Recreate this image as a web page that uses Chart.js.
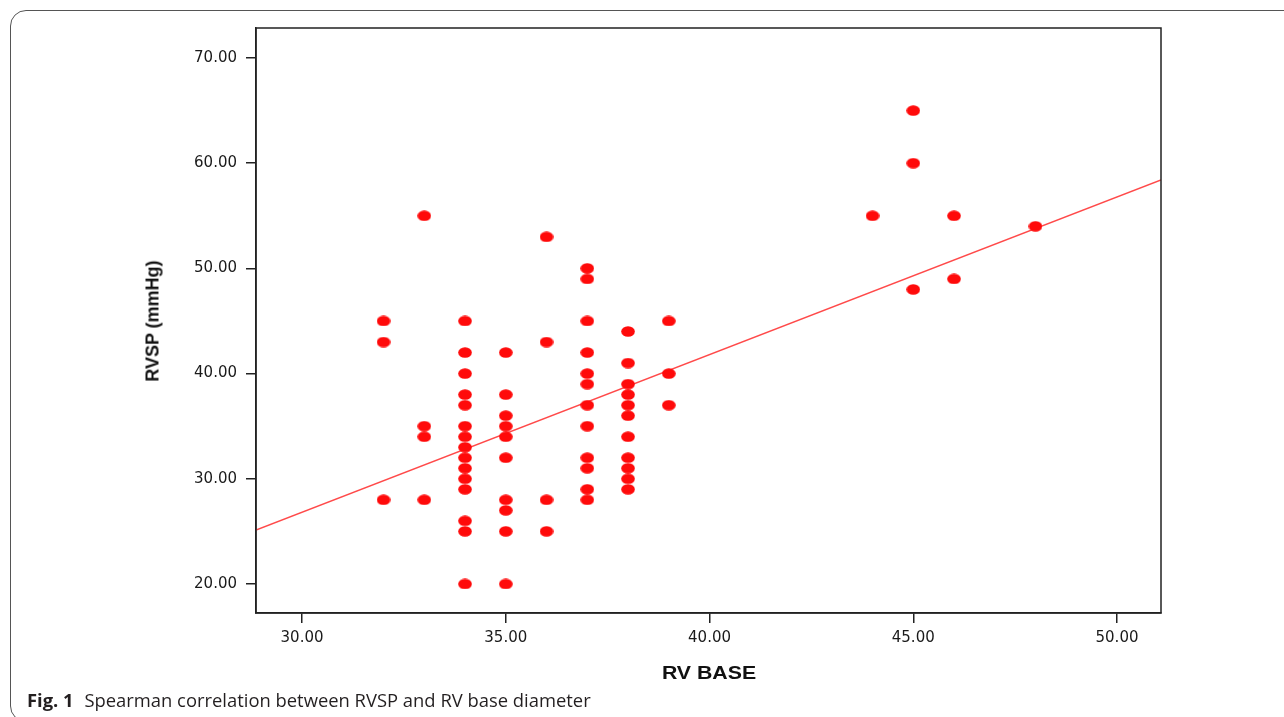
<!DOCTYPE html>
<html>
<head>
<meta charset="utf-8">
<script src="https://cdn.jsdelivr.net/npm/chart.js@4/dist/chart.umd.min.js"></script>
<style>
  html, body { margin: 0; padding: 0; background: #fff; }
  body { width: 1284px; height: 717px; position: relative; overflow: hidden; }
  #frame {
    position: absolute; left: 10px; top: 10px; width: 1400px; height: 712px;
    border: 1px solid #555; border-radius: 16px; box-sizing: border-box;
  }
  #chart { position: absolute; left: 0; top: 0; }
  .title { position: absolute; font-family: "Liberation Sans", Arial, sans-serif; font-weight: bold; color: #111; white-space: nowrap; }
  #xtitle { left: 709px; top: 673px; font-size: 19px; transform: translate(-50%, -50%) scaleX(1.12); }
  #ytitle { left: 153px; top: 321px; font-size: 18px; transform: translate(-50%, -50%) rotate(-90deg); }
  #caption {
    position: absolute; left: 27px; top: 687px; font-family: "Open Sans", "Noto Sans", sans-serif;
    font-size: 18.4px; color: #231f20; white-space: nowrap;
  }
  #caption b { font-weight: bold; margin-right: 6px; }
</style>
</head>
<body>
<div id="frame"></div>
<canvas id="chart" width="1284" height="717"></canvas>
<div class="title" id="xtitle">RV BASE</div>
<div class="title" id="ytitle">RVSP (mmHg)</div>
<div id="caption"><b>Fig. 1</b> Spearman correlation between RVSP and RV base diameter</div>

<script>
// RV base diameter (x) and RVSP (y) for each patient
const rvBase = [
  32, 32, 32,
  33, 33, 33, 33,
  34, 34, 34, 34, 34, 34, 34, 34, 34, 34, 34, 34, 34, 34, 34,
  35, 35, 35, 35, 35, 35, 35, 35, 35, 35,
  36, 36, 36, 36,
  37, 37, 37, 37, 37, 37, 37, 37, 37, 37, 37, 37,
  38, 38, 38, 38, 38, 38, 38, 38, 38, 38, 38,
  39, 39, 39,
  44,
  45, 45, 45,
  46, 46,
  48
];
const rvsp = [
  45, 43, 28,
  55, 35, 34, 28,
  45, 42, 40, 38, 37, 35, 34, 33, 32, 31, 30, 29, 26, 25, 20,
  42, 38, 36, 35, 34, 32, 28, 27, 25, 20,
  53, 43, 28, 25,
  50, 49, 45, 42, 40, 39, 37, 35, 32, 31, 29, 28,
  44, 41, 39, 38, 37, 36, 34, 32, 31, 30, 29,
  45, 40, 37,
  55,
  65, 60, 48,
  55, 49,
  54
];

// fit line end points, read at the plot edges
const fitX = [28.87, 51.08];
const fitY = [25.13, 58.4];

const xTicks = [30, 35, 40, 45, 50];
const yTicks = [20, 30, 40, 50, 60, 70];

// SPSS style dot: a slightly flattened ellipse
const dot = document.createElement('canvas');
dot.width = 14; dot.height = 11;
(function () {
  const c = dot.getContext('2d');
  c.fillStyle = '#ff0a0a';
  c.beginPath();
  c.ellipse(7, 5.5, 6.8, 5.3, 0, 0, Math.PI * 2);
  c.fill();
})();

const points = rvBase.map((x, i) => ({ x: x, y: rvsp[i] }));
const fitLine = fitX.map((x, i) => ({ x: x, y: fitY[i] }));

const boxPlugin = {
  id: 'box',
  afterDatasetsDraw(chart) {
    const a = chart.chartArea;
    const ctx = chart.ctx;
    ctx.save();
    ctx.strokeStyle = '#222';
    ctx.lineWidth = 1.5;
    ctx.strokeRect(a.left, a.top, a.right - a.left, a.bottom - a.top);
    ctx.restore();
  }
};

const tickFont = { family: '"DejaVu Sans", sans-serif', size: 15 };

new Chart(document.getElementById('chart'), {
  type: 'scatter',
  data: {
    datasets: [
      {
        data: points,
        pointStyle: dot,
        pointRadius: 6,
        pointHoverRadius: 6
      },
      {
        type: 'line',
        data: fitLine,
        borderColor: '#ff4a4a',
        borderWidth: 1.4,
        pointRadius: 0,
        fill: false,
        clip: true
      }
    ]
  },
  plugins: [boxPlugin],
  options: {
    responsive: false,
    animation: false,
    events: [],
    layout: { padding: { left: 0, top: 28, right: 123, bottom: 0 } },
    plugins: { legend: { display: false }, tooltip: { enabled: false } },
    scales: {
      x: {
        type: 'linear',
        min: 28.87,
        max: 51.08,
        afterFit(s) { s.height = 104; },
        afterBuildTicks(s) { s.ticks = xTicks.map(v => ({ value: v })); },
        grid: { drawOnChartArea: false, drawTicks: true, tickLength: 10, color: '#222', lineWidth: 1.5 },
        border: { display: true, color: '#222', width: 1.5 },
        ticks: { font: tickFont, color: '#1a1a1a', padding: 6, maxRotation: 0, callback: v => v.toFixed(2) }
      },
      y: {
        type: 'linear',
        min: 17.24,
        max: 72.85,
        afterFit(s) { s.width = 256; },
        afterBuildTicks(s) { s.ticks = yTicks.map(v => ({ value: v })); },
        grid: { drawOnChartArea: false, drawTicks: true, tickLength: 10, color: '#222', lineWidth: 1.5 },
        border: { display: true, color: '#222', width: 1.5 },
        ticks: { font: tickFont, color: '#1a1a1a', padding: 9, callback: v => v.toFixed(2) }
      }
    }
  }
});
</script>
</body>
</html>
